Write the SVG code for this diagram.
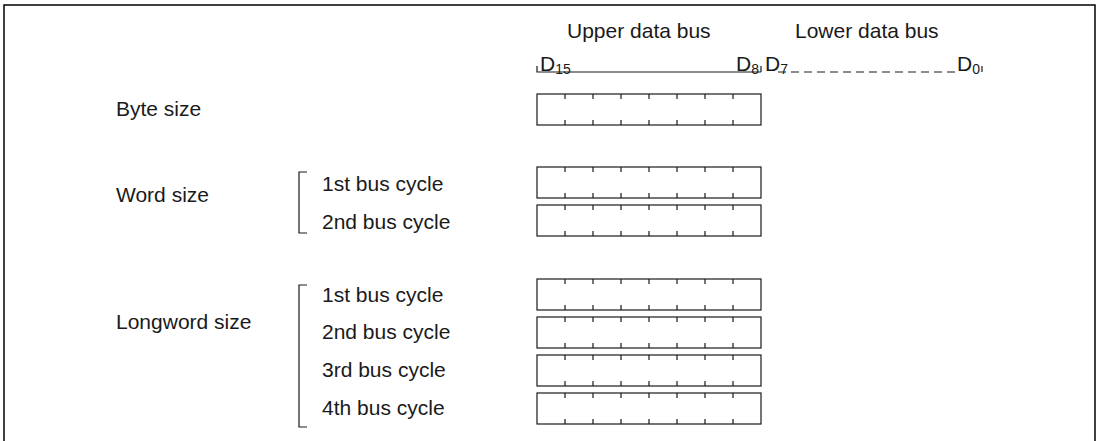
<svg xmlns="http://www.w3.org/2000/svg" width="1096" height="441" viewBox="0 0 1096 441">
<defs>
<style>
text{font-family:"Liberation Sans",Arial,sans-serif;font-size:21px;fill:#1a1a1a}
.sub{font-size:14px}
.ln{stroke:#1a1a1a;stroke-width:1.2;fill:none}
.box{stroke:#1a1a1a;stroke-width:1.2;fill:#fff}
.frame{stroke:#000;stroke-width:1.5;fill:none}
</style>
<g id="cells">
<rect class="box" x="0" y="0" width="224" height="31"/>
<path class="ln" d="M28,0v5M56,0v5M84,0v5M112,0v5M140,0v5M168,0v5M196,0v5M28,31v-5M56,31v-5M84,31v-5M112,31v-5M140,31v-5M168,31v-5M196,31v-5"/>
</g>
</defs>
<rect width="1096" height="441" fill="#fff"/>
<path class="frame" d="M4,441V5H1095V441"/>
<g id="header">
<text x="567" y="38">Upper data bus</text>
<text x="795" y="38">Lower data bus</text>
<text x="540" y="71">D<tspan class="sub" dy="3">15</tspan></text>
<text x="736" y="71">D<tspan class="sub" dy="3">8</tspan></text>
<text x="765" y="71">D<tspan class="sub" dy="3">7</tspan></text>
<text x="957" y="71">D<tspan class="sub" dy="3">0</tspan></text>
<path class="ln" d="M537,66V72H761M761,66V72M982,66V72"/>
<path class="ln" stroke-dasharray="8,5" d="M778,72H956"/>
</g>
<g id="byte">
<text x="116" y="116">Byte size</text>
<use href="#cells" x="537" y="94"/>
</g>
<g id="word">
<text x="116" y="202">Word size</text>
<path class="ln" d="M307,172H299V233H307"/>
<text x="322" y="191">1st bus cycle</text>
<text x="322" y="229">2nd bus cycle</text>
<use href="#cells" x="537" y="167"/>
<use href="#cells" x="537" y="205"/>
</g>
<g id="longword">
<text x="116" y="329">Longword size</text>
<path class="ln" d="M307,285H299V427H307"/>
<text x="322" y="302">1st bus cycle</text>
<text x="322" y="339">2nd bus cycle</text>
<text x="322" y="377">3rd bus cycle</text>
<text x="322" y="415">4th bus cycle</text>
<use href="#cells" x="537" y="279"/>
<use href="#cells" x="537" y="317"/>
<use href="#cells" x="537" y="355"/>
<use href="#cells" x="537" y="393"/>
</g>
</svg>
